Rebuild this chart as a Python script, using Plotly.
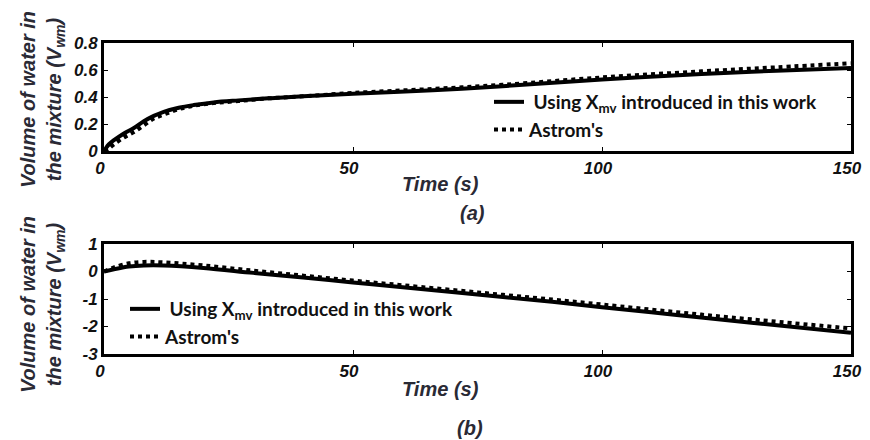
import plotly.graph_objects as go

# ---- data ----
t_a = [0, 1, 2, 4, 6, 8, 10, 12, 15, 18, 22, 27, 33, 40, 50, 66, 80, 100, 120, 135, 150]
using_a = [0, 0.05, 0.08, 0.13, 0.17, 0.22, 0.26, 0.29, 0.32, 0.34, 0.36, 0.375, 0.39, 0.405, 0.425, 0.45, 0.48, 0.53, 0.57, 0.595, 0.615]
astrom_a = [0, 0.02, 0.05, 0.10, 0.14, 0.19, 0.24, 0.27, 0.31, 0.335, 0.355, 0.37, 0.39, 0.405, 0.43, 0.46, 0.49, 0.545, 0.59, 0.62, 0.65]

t_b = [0, 2, 5, 8, 12, 20, 30, 40, 50, 60, 75, 90, 100, 115, 130, 150]
using_b = [0, 0.08, 0.18, 0.22, 0.22, 0.13, -0.05, -0.22, -0.40, -0.57, -0.84, -1.10, -1.30, -1.58, -1.86, -2.23]
astrom_b = [0, 0.15, 0.30, 0.35, 0.33, 0.22, 0.03, -0.15, -0.33, -0.50, -0.76, -1.02, -1.20, -1.48, -1.74, -2.07]

x_ticks = [0, 50, 100, 150]
y_ticks_a = [0, 0.2, 0.4, 0.6, 0.8]
y_ticktext_a = ["0", "0.2", "0.4", "0.6", "0.8"]
y_ticks_b = [-3, -2, -1, 0, 1]
y_ticktext_b = ["-3", "-2", "-1", "0", "1"]

name_using = "\u00a0Using X<sub>mv</sub> introduced in this work"
name_astrom = "Astrom's"

# page body has an 8px margin: work in window pixels and shift by it
OFF = 8
W, H = 870 - OFF, 440 - OFF


def px(x):
    return (x - OFF) / W


def py(y):
    return 1 - (y - OFF) / H


tick_font = dict(family="Liberation Sans, Arial", size=17, color="#111", weight="bold", style="italic")
title_font = dict(family="Liberation Sans, Arial", size=20, color="#2a2a35", weight="bold", style="italic")
leg_font = dict(family="Lato, Open Sans", size=19, color="#111", weight="bold")

fig = go.Figure()
fig.add_trace(go.Scatter(x=t_a, y=using_a, mode="lines", name=name_using, line=dict(color="black", width=4),
                         xaxis="x", yaxis="y", legend="legend", line_shape="spline"))
fig.add_trace(go.Scatter(x=t_a, y=astrom_a, mode="lines", name=name_astrom, line=dict(color="black", width=4, dash="dot"),
                         xaxis="x", yaxis="y", legend="legend", line_shape="spline"))
fig.add_trace(go.Scatter(x=t_b, y=using_b, mode="lines", name=name_using, line=dict(color="black", width=4),
                         xaxis="x2", yaxis="y2", legend="legend2", line_shape="spline"))
fig.add_trace(go.Scatter(x=t_b, y=astrom_b, mode="lines", name=name_astrom, line=dict(color="black", width=4, dash="dot"),
                         xaxis="x2", yaxis="y2", legend="legend2", line_shape="spline"))

xdom = [px(104), px(851)]
ydom_a = [py(151), py(43)]
ydom_b = [py(354), py(244)]

axis_common = dict(showline=True, linecolor="black", linewidth=3, mirror="ticks", ticks="inside",
                   ticklen=4, tickwidth=1, tickcolor="black", showgrid=False, zeroline=False,
                   tickfont=tick_font, automargin=False)

fig.update_layout(
    width=W, height=H,
    margin=dict(l=0, r=0, t=0, b=0, autoexpand=False),
    paper_bgcolor="white", plot_bgcolor="white",
    xaxis=dict(domain=xdom, range=[0, 150], tickvals=x_ticks, anchor="y", ticklabelshift=-4, **axis_common),
    yaxis=dict(domain=ydom_a, range=[0, 0.8], tickvals=y_ticks_a, ticktext=y_ticktext_a,
               anchor="x", **axis_common),
    xaxis2=dict(domain=xdom, range=[0, 150], tickvals=x_ticks, anchor="y2", ticklabelshift=-4, **axis_common),
    yaxis2=dict(domain=ydom_b, range=[-3, 1], tickvals=y_ticks_b, ticktext=y_ticktext_b,
                anchor="x2", **axis_common),
    legend=dict(x=px(489), y=py(83), xanchor="left", yanchor="top", bgcolor="rgba(255,255,255,0)",
                font=leg_font, tracegroupgap=0, itemwidth=30),
    legend2=dict(x=px(125), y=py(290), xanchor="left", yanchor="top", bgcolor="rgba(255,255,255,0)",
                 font=leg_font, tracegroupgap=0, itemwidth=30),
    showlegend=True,
)

ytitle = "Volume of water in<br>the mixture (V<sub>wm</sub>)"
annotations = [
    dict(text=ytitle, x=px(42), y=py(100), xref="paper", yref="paper", textangle=-90,
         showarrow=False, font=title_font, xanchor="center", yanchor="middle"),
    dict(text=ytitle, x=px(42), y=py(305), xref="paper", yref="paper", textangle=-90,
         showarrow=False, font=title_font, xanchor="center", yanchor="middle"),
    dict(text="Time (s)", x=px(440), y=py(184), xref="paper", yref="paper",
         showarrow=False, font=title_font, xanchor="center", yanchor="middle"),
    dict(text="Time (s)", x=px(440), y=py(389), xref="paper", yref="paper",
         showarrow=False, font=title_font, xanchor="center", yanchor="middle"),
    dict(text="(a)", x=px(472), y=py(213), xref="paper", yref="paper",
         showarrow=False, font=title_font, xanchor="center", yanchor="middle"),
    dict(text="(b)", x=px(470), y=py(428), xref="paper", yref="paper",
         showarrow=False, font=title_font, xanchor="center", yanchor="middle"),
]
fig.update_layout(annotations=annotations)

fig.write_html("out.html")
